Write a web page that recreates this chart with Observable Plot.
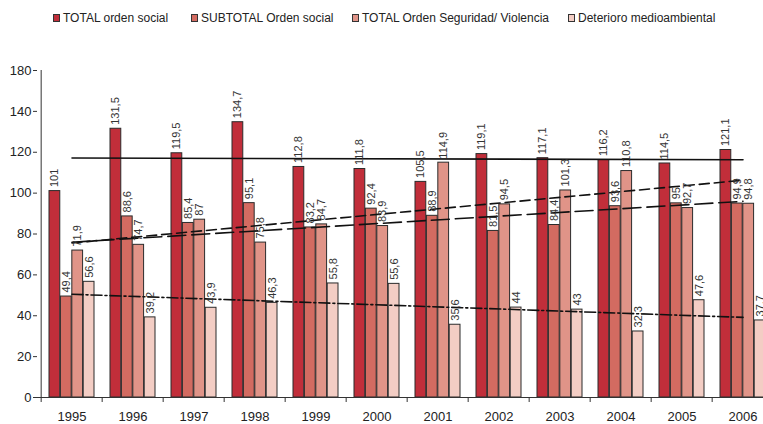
<!DOCTYPE html>
<html>
<head>
<meta charset="utf-8">
<script src="https://cdn.jsdelivr.net/npm/d3@7"></script>
<script src="https://cdn.jsdelivr.net/npm/@observablehq/plot@0.6"></script>
<style>
  html, body { margin: 0; padding: 0; background: #fff; overflow: hidden; width: 763px; height: 424px; }
  body { font-family: "Liberation Sans", Arial, Helvetica, sans-serif; }
  #legend { position: relative; height: 30px; font-size: 12px; color: #222; }
  #legend .item { position: absolute; top: 11px; display: flex; align-items: center; white-space: nowrap; line-height: 14px; }
  #legend .sw { width: 5px; height: 6px; border: 1px solid #333; margin-right: 3px; }
  #chart svg { display: block; max-width: none !important; }
</style>
</head>
<body>
<div id="legend"></div>
<div id="chart"></div>
<script>
// ---- data ----
const years = ["1995","1996","1997","1998","1999","2000","2001","2002","2003","2004","2005","2006"];
const seriesNames = ["TOTAL orden social","SUBTOTAL Orden social","TOTAL Orden Seguridad/ Violencia","Deterioro medioambiental"];
const totalSocial    = [101, 131.5, 119.5, 134.7, 112.8, 111.8, 105.5, 119.1, 117.1, 116.2, 114.5, 121.1];
const subtotalSocial = [49.4, 88.6, 85.4, 95.1, 83.2, 92.4, 88.9, 81.5, 84.4, 93.6, 95, 94.9];
const seguridad      = [71.9, 74.7, 87, 75.8, 84.7, 83.9, 114.9, 94.5, 101.3, 110.8, 92.7, 94.8];
const deterioro      = [56.6, 39.2, 43.9, 46.3, 55.8, 55.6, 35.6, 44, 43, 32.3, 47.6, 37.7];
// trend lines (end points)
const trendYears     = ["1995","2006"];
const trendTotal     = [117.2, 116.3];
const trendSubtotal  = [76, 96];
const trendSeguridad = [75.6, 106.3];
const trendDeterioro = [50.5, 39.2];
// y axis ticks as printed
const yTickValues = [0, 20, 40, 60, 80, 100, 120, 140, 160];
const yTickLabels = ["0", "20", "40", "60", "80", "100", "120", "140", "180"];

// ---- styles ----
const colors = ["#c12e3a", "#d36b61", "#e09488", "#f3cdc4"];
const seriesValues = [totalSocial, subtotalSocial, seguridad, deterioro];

// legend
const legendLeft = [53, 191, 352, 568];
const legend = document.getElementById("legend");
seriesNames.forEach((name, i) => {
  const it = document.createElement("div");
  it.className = "item";
  it.style.left = legendLeft[i] + "px";
  const sw = document.createElement("span");
  sw.className = "sw";
  sw.style.background = colors[i];
  const tx = document.createElement("span");
  tx.textContent = name;
  it.appendChild(sw); it.appendChild(tx);
  legend.appendChild(it);
});

const W = 778, H = 394, ML = 37, MR = 1, MT = 40, MB = 27;
const padIn = 0.26, padOut = padIn / 2;
const step = (W - ML - MR) / (years.length - padIn + 2 * padOut);
const bw = step * (1 - padIn);
const sub = bw / 4;
const fmt = v => String(v).replace(".", ",");

const marks = [];
seriesValues.forEach((vals, i) => {
  const rows = years.map((y, j) => ({year: y, value: vals[j]}));
  marks.push(Plot.barY(rows, {
    x: "year", y: "value", fill: colors[i], stroke: "#2b2b2b", strokeWidth: 1,
    insetLeft: i * sub, insetRight: (3 - i) * sub
  }));
});
// axes
marks.push(Plot.ruleY([0], {stroke: "#333", strokeWidth: 1}));
marks.push(Plot.ruleX([years[0]], {y1: 0, y2: 160, dx: -step / 2, stroke: "#333", strokeWidth: 1}));
marks.push(Plot.axisY({ticks: yTickValues, tickFormat: d => yTickLabels[yTickValues.indexOf(d)], tickSize: 4, tickPadding: 2, fontSize: 13, color: "#333", fill: "#222", label: null}));
marks.push(Plot.axisX({tickSize: 5, tickFormat: () => "", dx: -step / 2, stroke: "#333", label: null}));
marks.push(Plot.axisX({tickSize: 0, tickPadding: 14, fontSize: 13, fill: "#222", label: null}));
// trend lines
const trends = [
  [trendTotal, null],
  [trendSubtotal, "18,6"],
  [trendSeguridad, "10,5"],
  [trendDeterioro, "11,3,2,3"]
];
trends.forEach(([vals, dash]) => {
  marks.push(Plot.line(trendYears.map((y, k) => ({year: y, v: vals[k]})), {
    x: "year", y: "v", stroke: "#111", strokeWidth: 1.6, strokeDasharray: dash
  }));
});
// value labels
seriesValues.forEach((vals, i) => {
  const rows = years.map((y, j) => ({year: y, value: vals[j]}));
  marks.push(Plot.text(rows, {
    x: "year", y: "value", text: d => fmt(d.value), rotate: -90, textAnchor: "start",
    dx: (i - 1.5) * sub, dy: -4, fontSize: 11, fill: "#333"
  }));
});

const chart = Plot.plot({
  width: W, height: H,
  marginLeft: ML, marginRight: MR, marginTop: MT, marginBottom: MB,
  style: {fontFamily: "'Liberation Sans', Arial, Helvetica, sans-serif", background: "#fff", overflow: "visible"},
  x: {type: "band", domain: years, paddingInner: padIn, paddingOuter: padOut},
  y: {domain: [0, 160]},
  marks
});
chart.style.maxWidth = "none";
document.getElementById("chart").appendChild(chart);
</script>
</body>
</html>
